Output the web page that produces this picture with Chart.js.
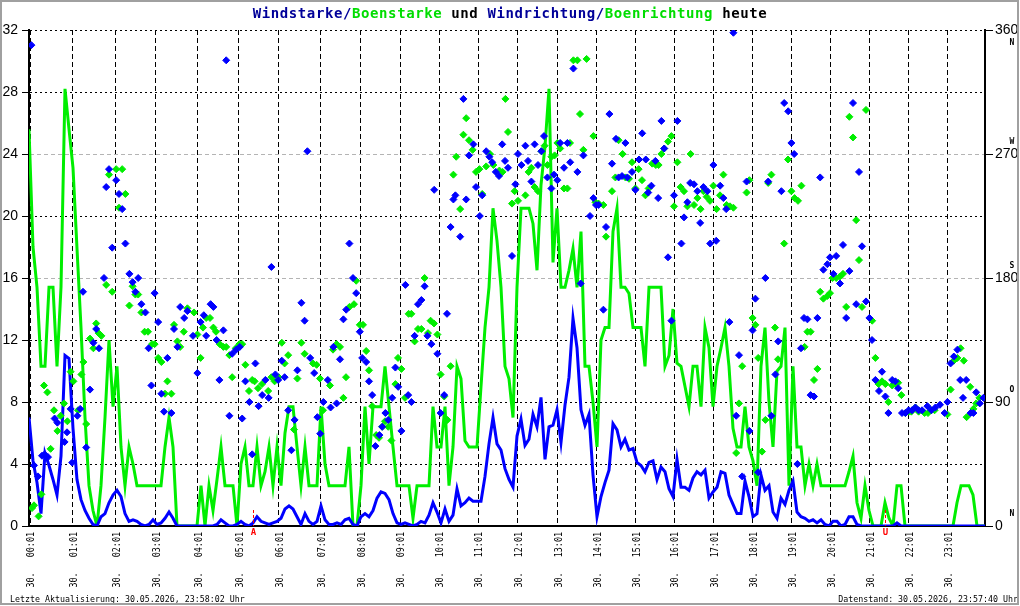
<!DOCTYPE html>
<html>
<head>
<meta charset="utf-8">
<title>Windstarke heute</title>
<script src="https://cdn.jsdelivr.net/npm/chart.js@4.4.1/dist/chart.umd.min.js"></script>
<style>
  html, body { margin: 0; padding: 0; background: #fff; }
  #wrap { width: 1020px; height: 606px; }
</style>
</head>
<body>
<div id="wrap"><canvas id="windChart" width="1020" height="606"></canvas></div>
<script>
// samples along the day (index 0..239), hour ticks given as sample index
const hourTicks = [0.3, 10.9, 21.7, 31.6, 42.2, 52.4, 62.4, 72.9, 82.9, 92.75, 102.5, 112.3,
  122.2, 132.2, 141.9, 151.7, 161.3, 171.1, 180.9, 190.7, 200.4, 210.2, 219.9, 229.7];
const hourLabels = ["30.   00:01", "30.   01:01", "30.   02:01", "30.   03:01", "30.   04:01", "30.   05:01",
  "30.   06:01", "30.   07:01", "30.   08:01", "30.   09:01", "30.   10:01", "30.   11:01",
  "30.   12:01", "30.   13:01", "30.   14:01", "30.   15:01", "30.   16:01", "30.   17:01",
  "30.   18:01", "30.   19:01", "30.   20:01", "30.   21:01", "30.   22:01", "30.   23:01"];

// Windstarke (blue line)
const windSpeed = [
  7.0,4.2,2.8,0.8,4.7,3.9,3.0,2.0,4.5,11.0,
  10.8,6.3,3.0,1.7,1.0,0.5,0.1,0,0.6,0.8,
  1.5,2.0,2.3,1.9,0.8,0.3,0.4,0.3,0.1,0,
  0.1,0.4,0.1,0.2,0.5,0.9,0.5,0,0,0,
  0,0,0,0,0,0,0,0.1,0.4,0.2,
  0,0,0.1,0.3,0.1,0,0.2,0.6,0.3,0.2,
  0.1,0.2,0.3,0.5,1.1,1.3,1.1,0.6,0.1,0.8,
  0.3,0.1,0.3,1.3,0.4,0.1,0.1,0.2,0.1,0.4,
  0.5,0.1,0,0.6,0.8,0.6,1.0,1.8,2.2,2.1,
  1.7,0.8,0.2,0.1,0.2,0.1,0,0.1,0.3,0.2,
  0.7,1.5,0.9,0.2,1.1,0.3,0.7,2.4,1.3,1.5,
  1.8,1.6,1.6,1.6,3.2,5.3,7.0,5.3,4.9,3.7,
  3.0,2.5,5.8,6.9,5.2,5.6,7.2,6.4,8.3,4.3,
  6.4,6.5,7.5,5.4,7.8,9.6,13.4,11.5,7.5,6.5,
  7.2,3.3,0.6,1.9,2.8,3.6,6.6,6.2,5.1,5.6,
  4.9,5.0,4.1,3.9,3.5,4.1,4.2,3.0,3.8,3.5,
  2.4,1.9,4.3,2.5,2.5,2.3,3.1,3.5,3.3,3.6,
  1.8,2.2,2.5,3.5,3.4,2.0,1.4,0.8,0.8,2.9,
  1.9,0.6,0.8,3.3,2.3,2.6,0.9,0.5,1.8,1.4,
  2.3,2.9,0.9,0.6,0.5,0.3,0.4,0.2,0.4,0.1,
  0,0.3,0.3,0,0.1,0.6,0.6,0.1,0,0,
  0,0,0,0,0,0,0,0.2,0,0,
  0,0,0,0,0,0,0,0,0,0,
  0,0,0,0,0,0,0,0,0,0
];

// Boenstarke (green line)
const gustSpeed = [
  25.6,18,15.4,10.3,10.3,15.4,15.4,10.3,15.4,28.2,
  25.6,23.1,17.9,12.8,7.0,2.6,1.0,0,2.6,7.0,
  12.0,7.7,10.3,5.1,2.6,5.1,4.0,2.6,2.6,2.6,
  2.6,2.6,2.6,2.6,5.1,7.0,5.1,0,0,0,
  0,0,0,2.6,0,2.6,1.0,3.0,5.1,2.6,
  2.6,2.6,0,4.0,5.1,2.6,2.6,5.1,2.6,3.5,
  5.1,2.6,5.1,2.6,6.0,7.7,7.7,5.1,2.6,5.1,
  2.6,2.6,2.6,7.7,4.0,2.6,2.6,2.6,2.6,2.6,
  5.1,0,0,2.6,7.7,4.0,7.7,7.7,7.7,10.3,
  7.7,5.1,2.6,2.6,2.6,2.6,0.5,2.6,2.6,2.6,
  2.6,7.7,5.1,5.1,7.7,2.6,5.1,10.3,9.5,5.5,
  5.1,5.1,5.1,9.0,12.8,15.4,20.5,18.4,15.4,10.3,
  9.5,7.0,15.4,20.5,20.5,20.5,19.5,16.5,22.0,24.5,
  28.2,17.0,20.5,15.4,15.4,16.5,17.9,15.4,19.0,10.3,
  10.3,8.0,5.1,12.0,12.8,12.8,19.0,20.5,15.4,15.4,
  15.0,12.8,12.8,12.8,10.3,15.4,15.4,15.4,15.4,10.3,
  11.0,14.0,10.5,10.3,9.0,7.7,10.3,10.3,7.7,12.8,
  11.5,7.7,10.3,11.5,12.8,10.3,6.3,5.1,5.1,7.7,
  5.1,4.2,2.6,10.3,12.8,8.0,5.1,10.0,10.3,12.8,
  2.6,10.3,5.1,5.1,2.6,4.0,2.6,4.0,2.6,2.6,
  2.6,2.6,2.6,2.6,2.6,3.5,4.5,1.5,0.5,2.6,
  1.0,0,0,0,1.5,0.5,0,2.6,2.6,0,
  0,0,0,0,0,0,0,0,0,0,
  0,0,1.5,2.6,2.6,2.6,2.0,0,0,0
];

// Windrichtung (blue diamonds) as [sample index, degrees]
const windDir = [
  [0.6,349],[1.25,44],[2.25,36],[3.25,51],[3.9,52],[4.75,50],[6.4,78],[7.1,75],[8.9,61],[9.5,68],
  [10.4,85],[10.8,46],[12.1,80],[12.8,85],[13.5,170],[14.3,57],[15.25,99],[16.1,133],[16.8,143],[17.5,129],
  [18.75,180],[19.3,246],[20,259],[20.8,202],[21.8,251],[22.5,241],[23.3,230],[24.1,205],[25.1,183],[25.9,177],
  [26.6,170],[27.3,180],[28.1,161],[29.1,155],[29.9,129],[30.6,102],[31.4,169],[32.3,148],[33.1,96],[33.75,83],
  [34.6,122],[35.6,82],[36.25,143],[37.1,130],[37.8,159],[38.8,151],[39.6,156],
  [41,138],[42.1,111],[42.9,148],[43.7,153],[44.3,138],[45.4,161],[46.1,159],[46.9,135],[47.6,106],[48.6,142],
  [49.3,338],[50.1,80],[50.8,125],[51.8,128],[52.7,130],[53.3,78],[54.1,105],[55.1,90],[55.8,52],[56.6,118],
  [57.4,87],[58.3,95],[59.1,106],[59.9,93],[60.6,188],[61.6,110],[62.3,106],[63.2,120],[63.9,108],[64.8,84],
  [65.6,55],[66.4,77],[67.1,113],[68.1,162],[68.9,149],[69.6,272],[70.3,122],[71.3,111],[72.1,79],[72.8,67],
  [73.6,90],[74.7,106],[75.4,86],[76.1,130],[76.9,89],[77.75,121],[78.6,150],[79.3,157],[80.1,205],
  [81,180],[81.8,169],[82.7,141],[83.3,122],[84.3,119],[85,105],[85.8,95],[86.6,58],[87.6,66],[88.3,72],
  [89.1,82],[89.8,77],[90.8,93],[91.6,115],[92.3,101],[93.1,69],[94.1,175],[94.8,95],[95.6,90],[96.4,138],
  [97.25,161],[98.1,164],[98.9,174],[99.6,138],[100.6,132],[101.3,244],[102.1,125],[102.9,82],[103.8,95],[104.5,154],
  [105.4,217],[106.1,237],[106.6,240],[107.8,210],[108.6,310],[109.3,237],[110,269],[111.1,277],[111.75,246],[112.7,225],
  [113.3,240],[114.3,272],[115.1,268],[115.8,264],[116.7,257],[117.5,254],[118.3,277],[119,265],[119.75,260],
  [120.75,196],[121.6,248],[122.25,270],[123.1,262],[124.1,276],[124.75,265],[125.6,250],[126.4,277],[127.25,262],[128.1,272],
  [128.75,283],[129.6,253],[130.6,245],[131.25,255],[132.1,251],[132.8,278],[133.75,260],[134.6,278],[135.3,264],[136.1,332],
  [137.1,257],[137.9,176],[138.6,269],[140.25,225],[141.1,238],[141.75,233],[142.4,233],[143.6,157],[144.25,217],[145.1,299],
  [145.75,263],[146.75,281],[147.4,253],[148.25,254],[149.1,278],[149.6,253],[150.75,257],[151.6,244],[152.5,266],[153.3,285],
  [154.2,266],[154.8,242],[155.6,247],[156.6,265],[157.3,238],[158.1,294],[158.8,274],[159.75,195],
  [160.6,149],[161.25,240],[162.1,294],[163.1,205],[163.75,224],[164.6,235],[165.3,249],[166.25,248],[167.1,243],[167.8,220],
  [168.6,246],[169.6,243],[170.3,205],[171.1,262],[171.8,207],[172.8,247],[173.6,238],[174.3,230],[175.1,148],[176.1,358],
  [176.8,80],[177.5,124],[178.3,36],[179.4,250],[180.1,69],[180.9,142],[181.6,165],[182.3,39],[184.1,180],[184.8,250],
  [185.6,80],[186.6,110],[187.3,134],[188.1,243],[188.8,307],[189.8,301],[190.6,278],[191.3,270],[192.1,45],[193,129],
  [193.75,151],[194.6,150],[195.4,95],[196.25,94],[197.1,151],[197.8,253],[198.6,186],[199.6,190],[200.25,195],
  [201.1,183],[201.8,196],[202.75,176],[203.5,204],[204.3,151],[205.1,185],[206,307],[206.8,161],[207.5,257],[208.25,203],
  [209.25,163],[210.1,151],[210.75,135],[211.6,106],[212.5,98],[213.25,112],[214.1,94],[214.85,82],[215.8,106],[216.6,105],
  [217.3,100],[218.25,82],[219.1,82],[219.9,84],[220.75,84],[221.6,86],[222.4,84],[223.25,84],[224.6,87],[225.6,84],
  [226.6,86],[227.75,88],[228.9,82],[229.6,90],[230.4,118],[231.2,123],[232.1,128],[232.8,106],[233.5,93],[234.3,106],
  [235.4,82],[236.1,82],[236.8,97],[237.7,89],[238.6,93]
];

// Boenrichtung (green diamonds) as [sample index, degrees]
const gustDir = [
  [0.75,13],[1.25,15],[2.4,7],[3.1,23],[3.75,102],[4.6,97],[5.4,56],[6.25,84],[7.1,69],[7.9,80],
  [8.75,89],[9.6,76],[10.4,112],[11.1,105],[12.25,84],[13.1,110],[13.6,119],[14.3,74],[15.25,136],[16.1,129],
  [16.8,147],[17.4,140],[18.1,138],[19.3,175],[20,255],[20.8,170],[21.8,259],[22.5,231],[23.3,259],[24.1,241],
  [25.1,160],[25.9,174],[26.6,168],[27.3,168],[28.1,155],[28.9,141],[29.75,141],[30.75,132],[31.4,132],[32.3,122],
  [33.1,119],[34,96],[34.6,105],[35.6,96],[36.25,146],[37.1,134],[37.8,130],[38.7,141],[39.6,158],
  [41.25,155],[42.1,139],[42.9,122],[43.5,144],[44.3,151],[45.25,151],[46.1,144],[46.75,141],[47.7,132],[48.6,130],
  [49.3,130],[50.1,124],[50.8,108],[51.7,129],[52.6,132],[53.3,132],[54.1,117],[55,98],[55.8,106],[56.4,105],
  [57.25,100],[58.25,103],[59.8,98],[60.6,108],[61.4,105],[62.4,108],[63.2,133],[63.9,118],[64.8,124],[66.25,70],
  [67.1,107],[68.1,133],[68.9,125],[71,118],[71.9,117],[72.75,107],[73.5,84],[75.25,102],[76,128],[76.9,132],
  [77.75,130],[78.6,93],[79.25,108],[80.1,159],
  [81.25,161],[81.8,178],[82.7,146],[83.5,146],[84.3,127],[85,113],[85.8,87],[86.8,66],[87.5,64],[88.3,72],
  [89,76],[89.8,72],[90.6,62],[91.6,103],[92.25,122],[93.1,114],[94,93],[94.9,154],[95.6,154],[96.4,134],
  [97.25,143],[98.1,143],[98.9,180],[99.75,140],[100.4,149],[101.25,147],[102.1,139],[102.9,110],[103.8,94],[104.6,77],
  [105.4,116],[106.1,255],[106.8,268],[107.8,230],[108.6,284],[109.3,296],[110,280],[110.9,273],[111.75,257],[112.6,259],
  [113.3,241],[114.3,261],[115.25,270],[116.1,262],[117.6,258],[118.4,257],[119.1,310],[119.75,286],
  [120.75,234],[121.4,243],[122.25,236],[124.1,240],[124.9,257],[125.6,260],[126.4,246],[127.25,243],[128.1,272],[128.9,276],
  [129.6,262],[130.6,268],[131.4,269],[132.1,278],[132.8,274],[133.75,245],[134.6,245],[135.25,278],[136.1,338],[137.1,338],
  [137.75,299],[138.6,273],[139.4,339],[141.1,283],[141.6,235],[142.4,234],[143.6,233],[144.25,210],[145.75,243],[146.6,253],
  [147.4,280],[148.4,270],[149.1,253],[150,252],[150.75,264],[151.6,245],[152.4,259],[153.25,251],[154.1,240],[154.9,245],
  [155.8,263],[156.7,262],[157.4,262],[158.1,270],[158.8,274],[159.75,279],
  [160.6,283],[161.25,232],[162.1,264],[162.9,246],[163.75,243],[164.6,232],[165.4,270],[166.25,233],[167.1,238],[167.9,230],
  [168.6,243],[169.4,239],[170.25,236],[171.1,247],[171.9,230],[172.75,240],[173.6,255],[174.4,233],[175.25,232],[176.1,231],
  [176.8,53],[177.5,89],[178.3,116],[179.4,242],[180.1,251],[180.9,151],[181.6,146],[182.3,122],[183.25,54],[184.1,77],
  [184.8,249],[185.6,255],[186.5,144],[187.25,121],[188.8,205],[189.75,266],[190.6,243],[191.4,238],[192.25,236],[193.1,247],
  [193.9,130],[194.6,141],[195.4,141],[196.25,106],[197.1,114],[197.8,170],[198.6,165],[199.6,167],[200.25,169],
  [200.9,180],[201.8,180],[202.7,181],[203.5,183],[204.3,159],[205.1,297],[206,282],[206.8,222],[207.5,193],[208.25,159],
  [209.25,302],[210.8,149],[211.6,122],[212.4,103],[213.25,105],[214.1,103],[214.85,90],[215.8,102],[216.6,103],[217.3,104],
  [218.1,95],[219.1,82],[219.9,83],[220.6,83],[221.6,86],[222.4,83],[223.9,82],[224.75,82],[225.6,84],[226.4,84],
  [229.6,81],[230.4,99],[231.2,120],[232.1,122],[232.9,129],[233.7,120],[234.4,79],[235.3,101],[236.1,85],[236.8,89],
  [237.6,93]
];

// sunrise / sunset markers (sample index)
const sunMarks = [["A", 56], ["U", 214]];
const compass = [[0, "N"], [90, "O"], [180, "S"], [270, "W"], [360, "N"]];

const titleParts = [
  ["Windstarke/", "#000099"], ["Boenstarke", "#00dd00"], [" und ", "#000000"],
  ["Windrichtung/", "#000099"], ["Boenrichtung", "#00dd00"], [" heute", "#000000"]
];
const footLeft = "Letzte Aktualisierung: 30.05.2026, 23:58:02 Uhr";
const footRight = "Datenstand: 30.05.2026, 23:57:40 Uhr";

const BLUE = "#0000ff";
const GREEN = "#00ee00";
const MONO = '"DejaVu Sans Mono", "Liberation Mono", monospace';

const overlay = {
  id: "overlay",
  beforeDraw(chart) {
    const c = chart.ctx;
    c.save();
    c.fillStyle = "#fff";
    c.fillRect(0, 0, chart.width, chart.height);
    c.restore();
  },
  afterDraw(chart) {
    const c = chart.ctx;
    const xs = chart.scales.x, y2 = chart.scales.y2;
    const area = chart.chartArea;
    c.save();

    // title, coloured pieces
    c.font = "bold 14px " + MONO;
    c.letterSpacing = "0.6px";
    c.textBaseline = "alphabetic";
    c.textAlign = "left";
    const total = titleParts.reduce((s, p) => s + c.measureText(p[0]).width, 0);
    let tx = chart.width / 2 - total / 2;
    titleParts.forEach(p => {
      c.fillStyle = p[1];
      c.fillText(p[0], tx, 18);
      tx += c.measureText(p[0]).width;
    });
    c.letterSpacing = "0px";

    // hour labels, vertical, read bottom to top
    c.font = "8.4px " + MONO;
    c.fillStyle = "#000";
    c.textAlign = "right";
    c.textBaseline = "middle";
    xs.ticks.forEach((t, i) => {
      const px = xs.getPixelForValue(t.value);
      c.save();
      c.translate(px + 1.5, area.bottom + 6);
      c.rotate(-Math.PI / 2);
      c.scale(1, 1.25);
      c.fillText(hourLabels[i], 0, 0);
      c.restore();
    });

    // compass letters by the right axis
    c.font = "bold 8px " + MONO;
    c.textAlign = "center";
    c.textBaseline = "middle";
    compass.forEach(([deg, l]) => {
      const py = y2.getPixelForValue(deg);
      c.fillText(l, 1012, deg === 360 ? py + 13 : py - 12);
    });

    // sunrise / sunset
    c.strokeStyle = "#ff0000";
    c.fillStyle = "#ff0000";
    c.lineWidth = 1;
    c.setLineDash([3, 2]);
    sunMarks.forEach(([l, idx]) => {
      const px = Math.round(xs.getPixelForValue(idx)) + 0.5;
      c.beginPath();
      c.moveTo(px, area.bottom - 16);
      c.lineTo(px, area.bottom);
      c.stroke();
      c.font = "bold 9px " + MONO;
      c.fillText(l, px, area.bottom + 7);
    });
    c.setLineDash([]);

    // footer
    c.font = "8.3px " + MONO;
    c.fillStyle = "#000";
    c.textBaseline = "alphabetic";
    c.textAlign = "left";
    c.fillText(footLeft, 10, 602);
    c.textAlign = "right";
    c.fillText(footRight, 1018, 602);

    // outer frame
    c.strokeStyle = "#a0a0a0";
    c.lineWidth = 2;
    c.strokeRect(1, 1, chart.width - 3, chart.height - 3);
    c.restore();
  }
};

const isGrey = v => v === 16 || v === 24;

new Chart(document.getElementById("windChart").getContext("2d"), {
  type: "line",
  data: {
    datasets: [
      {
        type: "scatter",
        label: "Windrichtung",
        data: windDir.map(p => ({ x: p[0], y: p[1] })),
        yAxisID: "y2",
        pointStyle: "rectRot",
        pointRadius: 3.5,
        pointBorderWidth: 1,
        backgroundColor: BLUE,
        borderColor: BLUE,
        showLine: false,
        order: 1
      },
      {
        type: "scatter",
        label: "Boenrichtung",
        data: gustDir.map(p => ({ x: p[0], y: p[1] })),
        yAxisID: "y2",
        pointStyle: "rectRot",
        pointRadius: 3.5,
        pointBorderWidth: 1,
        backgroundColor: GREEN,
        borderColor: GREEN,
        showLine: false,
        order: 2
      },
      {
        label: "Windstarke",
        data: windSpeed.map((v, i) => ({ x: i, y: v })),
        yAxisID: "y",
        borderColor: BLUE,
        borderWidth: 3,
        pointRadius: 0,
        tension: 0,
        order: 3
      },
      {
        label: "Boenstarke",
        data: gustSpeed.map((v, i) => ({ x: i, y: v })),
        yAxisID: "y",
        borderColor: GREEN,
        borderWidth: 3,
        pointRadius: 0,
        tension: 0,
        order: 4
      }
    ]
  },
  options: {
    responsive: false,
    animation: false,
    events: [],
    layout: { padding: { top: 30, left: 0, right: 0, bottom: 0 } },
    plugins: { legend: { display: false }, tooltip: { enabled: false }, title: { display: false } },
    scales: {
      x: {
        type: "linear",
        min: 0,
        max: 239,
        afterBuildTicks: s => { s.ticks = hourTicks.map(v => ({ value: v })); },
        afterFit: s => { s.height = 80; },
        ticks: { display: false, autoSkip: false },
        grid: { color: "#000", lineWidth: 1, drawTicks: false },
        border: { color: "#000", width: 2, dash: [5, 3] }
      },
      y: {
        position: "left",
        min: 0,
        max: 32,
        afterFit: s => { s.width = 29; },
        ticks: {
          stepSize: 4,
          padding: 4,
          color: "#000",
          font: { family: '"Liberation Sans", Arial, sans-serif', size: 14 }
        },
        grid: {
          color: c => (c.tick && isGrey(c.tick.value)) ? "#b4b4b4" : "#000",
          lineWidth: 1,
          tickLength: 7,
          tickColor: "#000",
          tickBorderDash: []
        },
        border: {
          color: "#000",
          width: 2,
          dash: c => (c.tick && isGrey(c.tick.value)) ? [4, 3] : [2, 3]
        }
      },
      y2: {
        position: "right",
        min: 0,
        max: 360,
        afterFit: s => { s.width = 35; },
        ticks: {
          stepSize: 90,
          padding: 2,
          color: "#000",
          font: { family: '"Liberation Sans", Arial, sans-serif', size: 14 }
        },
        grid: { drawOnChartArea: false, tickLength: 8, tickColor: "#000" },
        border: { color: "#000", width: 2 }
      }
    }
  },
  plugins: [overlay]
});
</script>
</body>
</html>
